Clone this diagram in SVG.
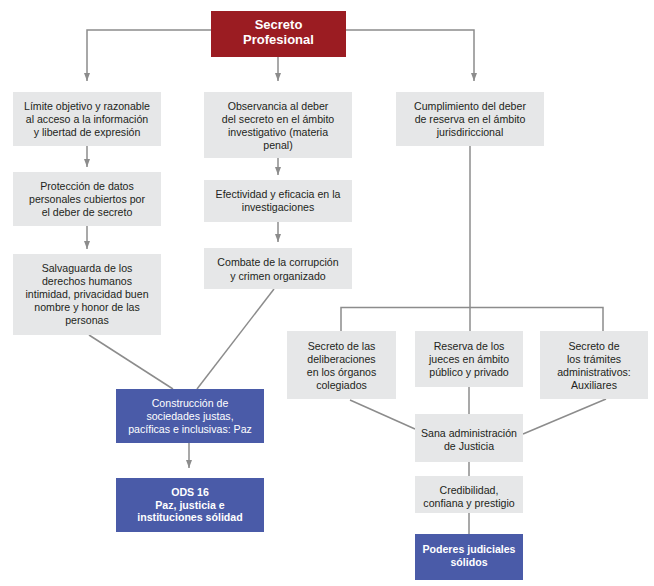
<svg xmlns="http://www.w3.org/2000/svg" width="654" height="586" viewBox="0 0 654 586">
<defs>
<style>
.g{fill:#e6e7e8}
.b{fill:#4a5ba8}
.r{fill:#9b1c22}
text{font-family:"Liberation Sans",Arial,sans-serif;font-size:10.6px;text-anchor:middle;fill:#231f20}
.w{fill:#ffffff}
.bold{font-weight:bold}
.c line,.c polyline{stroke:#8c8c8c;stroke-width:1.5;fill:none}
</style>
<marker id="ah" viewBox="0 0 8 6" refX="8" refY="3" markerWidth="8" markerHeight="6" markerUnits="userSpaceOnUse" orient="auto">
<path d="M0,0 L8,3 L0,6 z" fill="#8c8c8c"/>
</marker>
</defs>
<rect width="654" height="586" fill="#ffffff"/>
<g class="c" id="connectors">
<polyline points="211,30 87,30 87,81" marker-end="url(#ah)"/>
<line x1="278" y1="57" x2="278" y2="81" marker-end="url(#ah)"/>
<polyline points="346,30 474,30 474,81" marker-end="url(#ah)"/>
<line x1="87" y1="146" x2="87" y2="167" marker-end="url(#ah)"/>
<line x1="87" y1="226" x2="87" y2="249" marker-end="url(#ah)"/>
<line x1="278" y1="158" x2="278" y2="175" marker-end="url(#ah)"/>
<line x1="278" y1="222" x2="278" y2="242" marker-end="url(#ah)"/>
<line x1="89" y1="335" x2="173" y2="389"/>
<line x1="274" y1="289" x2="197" y2="389"/>
<line x1="189" y1="443" x2="189" y2="468" marker-end="url(#ah)"/>
<line x1="470" y1="146" x2="470" y2="331"/>
<polyline points="341,331 341,307.5 603,307.5 603,331"/>
<line x1="350" y1="400" x2="415" y2="429"/>
<line x1="606" y1="399" x2="523" y2="434"/>
<line x1="469" y1="387" x2="469" y2="414"/>
<line x1="469" y1="462" x2="469" y2="476"/>
<line x1="469" y1="513" x2="469" y2="534"/>
</g>
<g id="n-top">
<rect class="r" x="211" y="11" width="135" height="46"/>
<text class="w bold" style="font-size:13px" x="278.5" y="28.5">Secreto</text>
<text class="w bold" style="font-size:13px" x="278.5" y="44">Profesional</text>
</g>
<g id="n-a1">
<rect class="g" x="13" y="92" width="148" height="54"/>
<text x="87" y="110">Límite objetivo y razonable</text>
<text x="87" y="123">al acceso a la información</text>
<text x="87" y="136">y libertad de expresión</text>
</g>
<g id="n-b1">
<rect class="g" x="204" y="92" width="148" height="66"/>
<text x="278" y="110">Observancia al deber</text>
<text x="278" y="123">del secreto en el ámbito</text>
<text x="278" y="136">investigativo (materia</text>
<text x="278" y="149">penal)</text>
</g>
<g id="n-c1">
<rect class="g" x="396" y="92" width="148" height="54"/>
<text x="470" y="110">Cumplimiento del deber</text>
<text x="470" y="123">de reserva en el ámbito</text>
<text x="470" y="136">jurisdiriccional</text>
</g>
<g id="n-a2">
<rect class="g" x="13" y="172" width="148" height="54"/>
<text x="87" y="190">Protección de datos</text>
<text x="87" y="203">personales cubiertos por</text>
<text x="87" y="215.5">el deber de secreto</text>
</g>
<g id="n-a3">
<rect class="g" x="13" y="254" width="148" height="81"/>
<text x="87" y="272">Salvaguarda de los</text>
<text x="87" y="285">derechos humanos</text>
<text x="87" y="298">intimidad, privacidad buen</text>
<text x="87" y="311">nombre y honor de las</text>
<text x="87" y="324">personas</text>
</g>
<g id="n-b2">
<rect class="g" x="204" y="180" width="148" height="42"/>
<text x="278" y="197.5">Efectividad y eficacia en la</text>
<text x="278" y="210.5">investigaciones</text>
</g>
<g id="n-b3">
<rect class="g" x="204" y="248" width="148" height="41"/>
<text x="278" y="266">Combate de la corrupción</text>
<text x="278" y="279.5">y crimen organizado</text>
</g>
<g id="n-e">
<rect class="b" x="116" y="389" width="148" height="54"/>
<text class="w" x="190" y="407">Construcción de</text>
<text class="w" x="190" y="420">sociedades justas,</text>
<text class="w" x="190" y="433">pacíficas e inclusivas: Paz</text>
</g>
<g id="n-f">
<rect class="b" x="116" y="478" width="148" height="54"/>
<text class="w bold" x="190" y="496">ODS 16</text>
<text class="w bold" x="190" y="509">Paz, justicia e</text>
<text class="w bold" x="190" y="521">instituciones sólidad</text>
</g>
<g id="n-d1">
<rect class="g" x="287" y="331" width="109" height="68"/>
<text x="341.5" y="350">Secreto de las</text>
<text x="341.5" y="363">deliberaciones</text>
<text x="341.5" y="376">en los órganos</text>
<text x="341.5" y="389">colegiados</text>
</g>
<g id="n-d2">
<rect class="g" x="415" y="331" width="108" height="56"/>
<text x="469" y="350">Reserva de los</text>
<text x="469" y="363">jueces en ámbito</text>
<text x="469" y="376">público y privado</text>
</g>
<g id="n-d3">
<rect class="g" x="540" y="331" width="108" height="68"/>
<text x="594" y="350">Secreto de</text>
<text x="594" y="363">los trámites</text>
<text x="594" y="376">administrativos:</text>
<text x="594" y="389">Auxiliares</text>
</g>
<g id="n-sana">
<rect class="g" x="415" y="414" width="108" height="48"/>
<text x="469" y="437">Sana administración</text>
<text x="469" y="449.5">de Justicia</text>
</g>
<g id="n-cred">
<rect class="g" x="415" y="476" width="108" height="37"/>
<text x="469" y="494">Credibilidad,</text>
<text x="469" y="507">confiana y prestigio</text>
</g>
<g id="n-poderes">
<rect class="b" x="415" y="534" width="108" height="46"/>
<text class="w bold" x="469" y="553">Poderes judiciales</text>
<text class="w bold" x="469" y="566">sólidos</text>
</g>
</svg>
